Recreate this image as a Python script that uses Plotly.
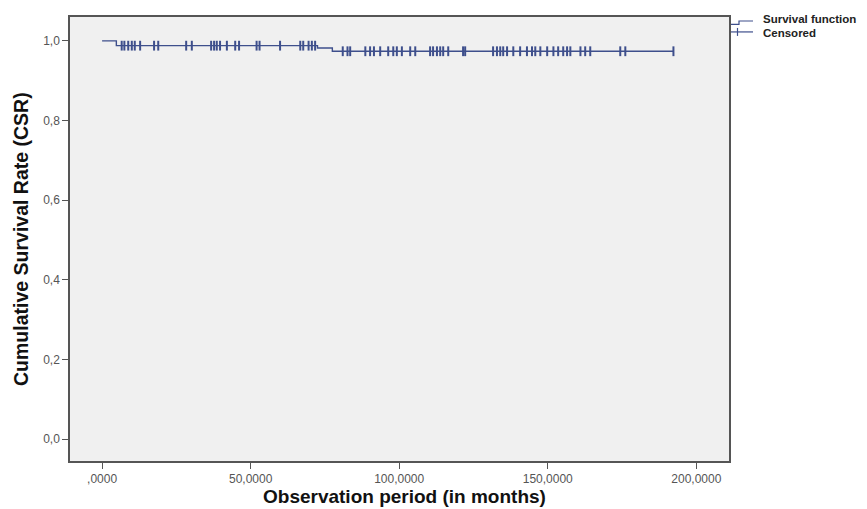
import plotly.graph_objects as go

# Survival function (step) – event times and survival level after each event
step_times = [0, 4.8, 72.5, 77.5, 192.3]
step_surv = [1.0, 0.988, 0.982, 0.974, 0.974]

# Censored observation times (months)
censored_times = [6.6, 7.5, 8.8, 10, 11, 12.8, 17.5, 18.9, 28.3, 30.2, 36.7, 37.7, 38.6,
                  39.7, 42, 44.8, 46.1, 52, 53, 59.9, 66.7, 67.7, 69.5, 70.6, 71.7, 81,
                  82.6, 83.5, 88.6, 90.2, 91.5, 93.6, 96.3, 98, 99.2, 100.9, 103.7, 105.4,
                  110.4, 111.4, 112.7, 113.8, 114.8, 116.5, 121.5, 122.2, 131.6, 132.9,
                  134, 135, 136.3, 138.4, 140.7, 143, 144.7, 145.8, 147.5, 149.8, 151.9,
                  153.5, 155.2, 156.5, 157.6, 161, 162.6, 164.3, 174.4, 176.1, 192.3]

x_tickvals = [0, 50, 100, 150, 200]
x_ticktext = [",0000", "50,0000", "100,0000", "150,0000", "200,0000"]
y_tickvals = [0.0, 0.2, 0.4, 0.6, 0.8, 1.0]
y_ticktext = ["0,0", "0,2", "0,4", "0,6", "0,8", "1,0"]
legend_labels = ["Survival function", "Censored"]


def surv_at(t):
    s = step_surv[0]
    for tt, ss in zip(step_times, step_surv):
        if t >= tt:
            s = ss
    return s


censored_surv = [surv_at(t) for t in censored_times]

LINE = "#3e4f8c"
FONT = "Liberation Sans, Arial, sans-serif"

# page has an 8px body margin: figure is sized/offset to compensate
W, H = 859, 501
L, R, T, B = 62, 138, 7, 48
PW, PH = W - L - R, H - T - B


def px(x):  # page pixel -> paper x
    return (x - 8 - L) / PW


def py(y):  # page pixel -> paper y
    return (H - B - (y - 8)) / PH


fig = go.Figure()
fig.add_trace(go.Scatter(
    x=step_times, y=step_surv, mode="lines", line_shape="hv",
    line=dict(color=LINE, width=1.4), name=legend_labels[0], showlegend=False,
))
fig.add_trace(go.Scatter(
    x=censored_times, y=censored_surv, mode="markers", name=legend_labels[1], showlegend=False,
    marker=dict(symbol="line-ns", size=7, line=dict(color=LINE, width=2), color=LINE),
))

shapes = [
    # legend symbol: step line
    dict(type="path", xref="paper", yref="paper",
         path=f"M {px(731)} {py(22.5)} L {px(739)} {py(22.5)} L {px(739)} {py(19)} L {px(753)} {py(19)}",
         line=dict(color=LINE, width=1.2)),
    # legend symbol: censored cross
    dict(type="line", xref="paper", yref="paper", x0=px(731), x1=px(753), y0=py(30), y1=py(30),
         line=dict(color=LINE, width=1.2)),
    dict(type="line", xref="paper", yref="paper", x0=px(737.5), x1=px(737.5), y0=py(26), y1=py(34),
         line=dict(color=LINE, width=1.2)),
]

annotations = [
    dict(text="<b>Observation period (in months)</b>", xref="paper", yref="paper",
         x=px(404), y=py(497), xanchor="center", yanchor="middle", showarrow=False,
         font=dict(family=FONT, size=19, color="#111111")),
    dict(text="<b>Cumulative Survival Rate (CSR)</b>", xref="paper", yref="paper",
         x=px(21), y=py(238), xanchor="center", yanchor="middle", textangle=-90,
         showarrow=False, font=dict(family=FONT, size=19.5, color="#111111")),
    dict(text="<b>" + legend_labels[0] + "</b>", xref="paper", yref="paper",
         x=px(761), y=py(17), xanchor="left", yanchor="middle", showarrow=False,
         font=dict(family=FONT, size=11.5, color="#222222")),
    dict(text="<b>" + legend_labels[1] + "</b>", xref="paper", yref="paper",
         x=px(761), y=py(31), xanchor="left", yanchor="middle", showarrow=False,
         font=dict(family=FONT, size=11.5, color="#222222")),
]

fig.update_layout(
    width=W, height=H,
    margin=dict(l=L, r=R, t=T, b=B),
    paper_bgcolor="white", plot_bgcolor="#f0f0f0",
    font=dict(family=FONT, color="#555555", size=12),
    showlegend=False,
    shapes=shapes,
    annotations=annotations,
    xaxis=dict(range=[-10.8, 211], tickvals=x_tickvals, ticktext=x_ticktext,
               showgrid=False, zeroline=False, showline=True, mirror=True,
               linecolor="#555555", linewidth=1.5, ticks="outside", ticklen=6,
               tickcolor="#555555", tickfont=dict(size=12, color="#555555")),
    yaxis=dict(range=[-0.055, 1.06], tickvals=y_tickvals, ticktext=y_ticktext,
               showgrid=False, zeroline=False, showline=True, mirror=True,
               linecolor="#555555", linewidth=1.5, ticks="outside", ticklen=6,
               tickcolor="#555555", tickfont=dict(size=12, color="#555555")),
)

fig.write_html("out.html")
